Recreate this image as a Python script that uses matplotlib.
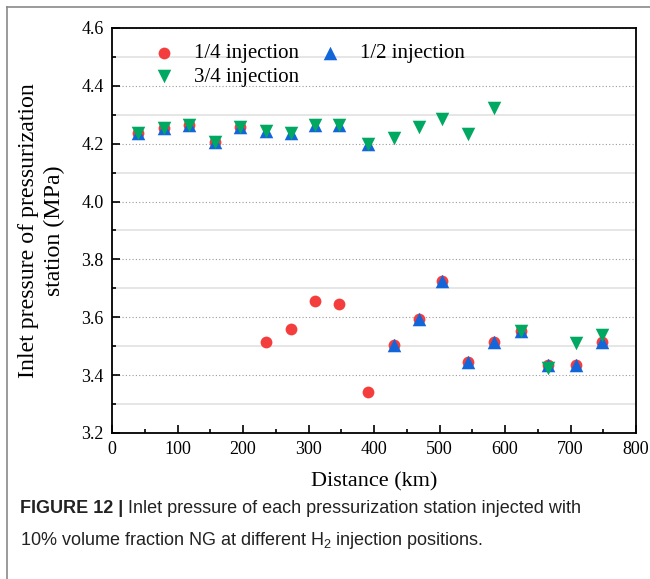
import matplotlib
matplotlib.use("Agg")
import matplotlib.pyplot as plt
from matplotlib.ticker import MultipleLocator
from matplotlib.lines import Line2D

plt.rcParams['mathtext.fontset'] = 'custom'
plt.rcParams['mathtext.rm'] = 'Liberation Sans'

# ---- data ----
dist = [40, 79, 118, 157, 196, 235, 274, 310, 347, 391,
        430, 468, 504, 544, 583, 624, 666, 708, 748]
p_quarter = [4.238, 4.255, 4.266, 4.206, 4.259, 3.516, 3.561, 3.657, 3.645, 3.341,
             3.503, 3.595, 3.724, 3.445, 3.513, 3.554, 3.434, 3.436, 3.513]
p_half = [4.238, 4.255, 4.266, 4.206, 4.259, 4.243, 4.238, 4.266, 4.266, 4.199,
          3.503, 3.595, 3.724, 3.445, 3.513, 3.554, 3.434, 3.436, 3.513]
p_three_quarter = [4.238, 4.255, 4.266, 4.206, 4.259, 4.243, 4.238, 4.266, 4.266, 4.199,
                   4.219, 4.259, 4.284, 4.234, 4.325, 3.552, 3.425, 3.510, 3.540]
labels = ['1/4 injection', '1/2 injection', '3/4 injection']
colors = ['#F43E3E', '#1366DA', '#00A862']

fig = plt.figure(figsize=(6.5, 5.79), dpi=100)
ax = fig.add_axes([112/650, 1-433/579, (636-112)/650, (433-28)/579])

serif = 'Liberation Serif'
h1 = ax.scatter(dist, p_quarter, s=72, marker='o', color=colors[0], zorder=3, linewidths=0)
h2 = ax.scatter(dist, p_half, s=95, marker='^', color=colors[1], zorder=4, linewidths=0)
h3 = ax.scatter(dist, p_three_quarter, s=95, marker='v', color=colors[2], zorder=5, linewidths=0)

ax.set_xlim(0, 800)
ax.set_ylim(3.2, 4.6)
ax.xaxis.set_major_locator(MultipleLocator(100))
ax.xaxis.set_minor_locator(MultipleLocator(50))
ax.yaxis.set_major_locator(MultipleLocator(0.2))
ax.yaxis.set_minor_locator(MultipleLocator(0.1))
ax.yaxis.set_major_formatter(matplotlib.ticker.FormatStrFormatter('%.1f'))

ax.grid(True, axis='y', which='major', color='#9a9a9a', linestyle=(0, (1, 2)), linewidth=0.8, zorder=0)
ax.grid(True, axis='y', which='minor', color='#e2e2e2', linestyle='-', linewidth=1.2, zorder=0)
ax.set_axisbelow(True)

ax.tick_params(which='both', direction='in', top=False, right=False, width=1.2)
ax.tick_params(which='major', length=6, labelsize=13, pad=6)
ax.tick_params(which='minor', length=3)
for lab in ax.get_xticklabels() + ax.get_yticklabels():
    lab.set_fontfamily(serif)
for sp in ax.spines.values():
    sp.set_linewidth(1.3)

ax.set_xlabel('Distance (km)', fontsize=16, fontfamily=serif, labelpad=10)
ax.set_ylabel('Inlet pressure of pressurization\nstation (MPa)', fontsize=17.2,
              fontfamily=serif, labelpad=12, linespacing=1.3)

leg = ax.legend([h1, h3, h2], [labels[0], labels[2], labels[1]], ncol=2,
                loc='upper left', bbox_to_anchor=(0.04, 1.008), frameon=False,
                prop={'family': serif, 'size': 15}, handletextpad=0.85,
                columnspacing=0.85, labelspacing=0.2, handlelength=1.2)

# border lines
fig.add_artist(Line2D([7/650, 7/650], [0, 1-7/579], transform=fig.transFigure,
                      color='#8a8a8a', linewidth=1.2))
fig.add_artist(Line2D([7/650, 1], [1-7/579, 1-7/579], transform=fig.transFigure,
                      color='#8a8a8a', linewidth=1.2))

# caption
cap_size = 13
t1 = fig.text(20/650, 1-513/579, 'FIGURE 12 |', fontsize=cap_size, fontweight='bold',
              family='Liberation Sans', va='baseline', color='#222222')
fig.text(20/650, 1-545/579, '10% volume fraction NG at different H$_2$ injection positions.',
         fontsize=cap_size, family='Liberation Sans', va='baseline', color='#222222')
ax.annotate(' Inlet pressure of each pressurization station injected with',
            xy=(1, 1-513/579), xycoords=(t1, 'figure fraction'),
            fontsize=cap_size, family='Liberation Sans', va='baseline', ha='left',
            color='#222222', annotation_clip=False)

fig.savefig('out.png', dpi=100)
